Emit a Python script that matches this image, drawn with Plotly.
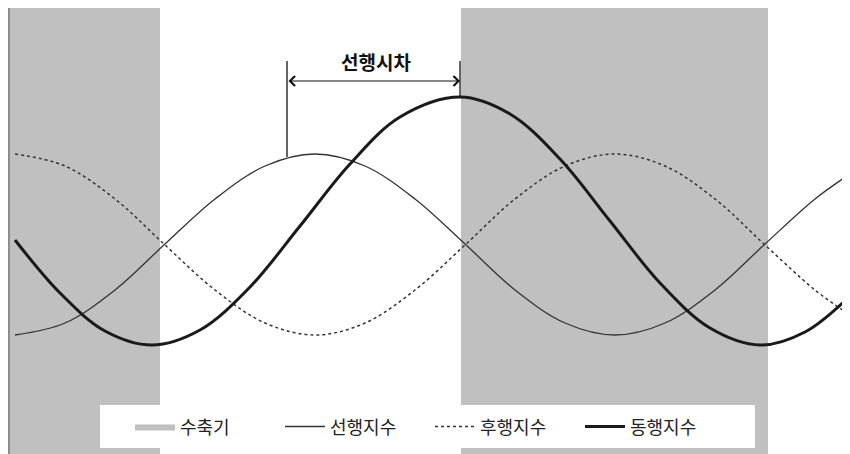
import plotly.graph_objects as go

# time axis (arbitrary units) and index levels
T_LEAD = [5, 55, 105, 155, 205, 255, 305, 355, 405, 455, 505, 555, 605, 655, 705, 755, 805, 840]
LEADING = [119, 131, 164, 210, 255, 288, 300, 288, 255, 210, 164, 131, 119, 131, 164, 210, 255, 280]
LAGGING = [300, 288, 255, 209, 164, 131, 119, 131, 164, 209, 255, 288, 300, 288, 255, 209, 164, 139]

T_COIN = [5, 50, 95, 142, 190, 240, 290, 340, 390, 450, 500, 550, 600, 650, 700, 750, 795, 840]
COINCIDENT = [214, 161, 123, 109, 124, 167, 228, 290, 337, 357, 340, 295, 233, 171, 126, 109, 122, 158]

# contraction periods (start, end)
CONTRACTION_START = [0, 451]
CONTRACTION_END = [150, 758]

NAMES = ['수축기', '선행지수', '후행지수', '동행지수']

# lead-time marker: leading peak vs coincident peak
LEAD_PEAK_T = 277
LEAD_PEAK_Y = 300
COIN_PEAK_T = 450
COIN_PEAK_Y = 357

X_MAX = 840
Y_MAX = 446
FONT = 'Noto Sans CJK KR'

# shaded rectangles built from the contraction periods
sx, sy = [], []
for s, e in zip(CONTRACTION_START, CONTRACTION_END):
    sx += [s, e, e, s, s, None]
    sy += [0, 0, Y_MAX, Y_MAX, 0, None]

fig = go.Figure()
fig.add_trace(go.Scatter(x=sx, y=sy, mode='lines', fill='toself',
                         fillcolor='#c0c0c0', line=dict(width=0),
                         name=NAMES[0]))
fig.add_trace(go.Scatter(x=T_LEAD, y=LEADING, mode='lines', name=NAMES[1],
                         line=dict(color='#333333', width=1.3, shape='spline')))
fig.add_trace(go.Scatter(x=T_LEAD, y=LAGGING, mode='lines', name=NAMES[2],
                         line=dict(color='#333333', width=1.5, dash='dot', shape='spline')))
fig.add_trace(go.Scatter(x=T_COIN, y=COINCIDENT, mode='lines', name=NAMES[3],
                         line=dict(color='#1a1a1a', width=3, shape='spline')))

top = 393
fig.add_shape(type='line', x0=LEAD_PEAK_T, x1=LEAD_PEAK_T, y0=LEAD_PEAK_Y - 3, y1=top,
              line=dict(color='#111111', width=1.3))
fig.add_shape(type='line', x0=COIN_PEAK_T, x1=COIN_PEAK_T, y0=COIN_PEAK_Y, y1=top,
              line=dict(color='#111111', width=1.3))
fig.add_annotation(x=COIN_PEAK_T, y=373, ax=LEAD_PEAK_T, ay=373,
                   xref='x', yref='y', axref='x', ayref='y', text='',
                   showarrow=True, arrowhead=4, startarrowhead=4,
                   arrowside='end+start', arrowwidth=1.2, arrowcolor='#111111',
                   arrowsize=1.6, startarrowsize=1.6)
fig.add_annotation(x=(LEAD_PEAK_T + COIN_PEAK_T) / 2 + 2, y=top, text='<b>선행시차</b>',
                   showarrow=False, xref='x', yref='y',
                   font=dict(family=FONT, size=19, color='#111111'))

# white legend panel
fig.add_shape(type='rect', xref='paper', yref='paper',
              x0=90 / 840, x1=745 / 840, y0=6 / 446, y1=49 / 446,
              fillcolor='white', line=dict(width=0), layer='above')

# the page body has an 8px margin, so the figure is sized to fit inside the window
fig.update_layout(
    width=842, height=446,
    margin=dict(l=2, r=0, t=0, b=0),
    paper_bgcolor='white', plot_bgcolor='white',
    font=dict(family=FONT, size=18, color='#222222'),
    showlegend=True,
    legend=dict(orientation='h', x=0.5, xanchor='center', y=0.061, yanchor='middle',
                bgcolor='rgba(0,0,0,0)', font=dict(size=18), itemwidth=40,
                entrywidth=95),
    hovermode=False,
    xaxis=dict(range=[0, X_MAX], showgrid=False, zeroline=False, showticklabels=False,
               ticks='', showline=True, mirror=True, linecolor='#a0a0a0', linewidth=1),
    yaxis=dict(range=[0, Y_MAX], showgrid=False, zeroline=False, showticklabels=False,
               ticks='', showline=True, linecolor='#8c8c8c', linewidth=2),
)

fig.write_html('out.html')
